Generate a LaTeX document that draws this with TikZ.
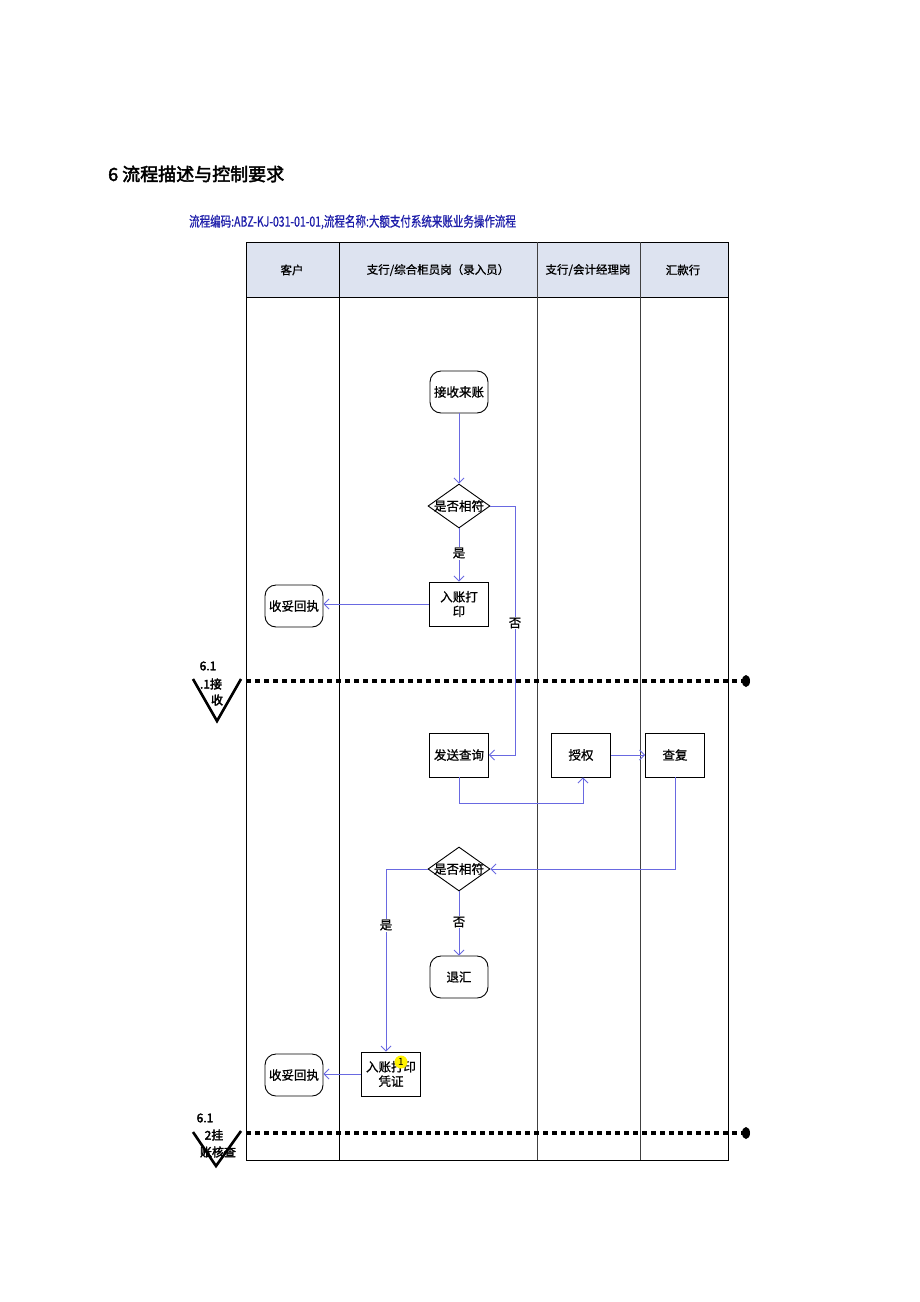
\documentclass[tikz,border=0pt]{standalone}
\usepackage{fontspec}
\newfontfamily\cjk{Noto Sans CJK SC}
\newfontfamily\cjkm[FakeBold=0.8]{Noto Sans CJK SC}
\newfontfamily\cjkb[FakeBold=2.5]{Noto Sans CJK SC}
\usetikzlibrary{shapes.geometric,arrows.meta}
\definecolor{hdr}{RGB}{221,227,240}
\definecolor{flow}{RGB}{105,105,225}
\definecolor{ttl}{RGB}{30,30,170}
\tikzset{
  txt/.style={font=\cjkm\fontsize{12.5}{14.5}\selectfont, align=center, inner sep=0pt},
  term/.style={draw, line width=0.9pt, rounded corners=11pt, minimum width=58pt, minimum height=42pt, txt},
  proc/.style={draw, line width=0.9pt, minimum width=59pt, minimum height=44pt, txt},
  dec/.style={draw, line width=0.9pt, diamond, minimum width=62pt, minimum height=44pt, inner sep=0pt},
  arr/.style={draw=flow, line width=0.8pt, -{Straight Barb[length=5pt,width=10pt]}},
  lbl/.style={txt, fill=white, inner sep=1pt},
  hd/.style={font=\cjkm\fontsize{11.5}{13}\selectfont, inner sep=0pt},
  sep/.style={line width=4pt, dash pattern=on 5pt off 4pt},
  vee/.style={line width=2.6pt},
  side/.style={font=\cjkb\fontsize{12}{13}\selectfont, inner sep=0pt}
}
\begin{document}
\begin{tikzpicture}[x=1pt,y=-1pt]
\useasboundingbox (0,0) rectangle (920,1302);
\fill[white] (0,0) rectangle (920,1302);
% titles
\node[font=\cjkb\fontsize{18}{20}\selectfont, anchor=west, inner sep=0pt] (title) at (108,174) {6 流程描述与控制要求};
\node[font=\cjkm\fontsize{14}{16}\selectfont, text=ttl, anchor=west, inner sep=0pt] (sub) at (189,222) {\scalebox{0.75}[1]{流程编码:ABZ-KJ-031-01-01,流程名称:大额支付系统来账业务操作流程}};
% table
\fill[hdr] (246,242) rectangle (728,297);
\draw[line width=0.9pt] (246,242) rectangle (728,1160);
\draw[line width=0.9pt] (246,297) -- (728,297);
\draw[line width=0.9pt] (339,242) -- (339,1160);
\draw[line width=0.9pt, black!75] (537,242) -- (537,1160);
\draw[line width=0.9pt, black!75] (640,242) -- (640,1160);
\node[hd] (h1) at (292,270) {客户};
\node[hd] (h2) at (438,270) {支行/综合柜员岗（录入员）};
\node[hd] (h3) at (588,270) {支行/会计经理岗};
\node[hd] (h4) at (683,270) {汇款行};
% nodes
\node[term] (recv) at (459,392) {接收来账};
\node[dec] (d1) at (459,506) {};
\node[txt] (d1t) at (d1) {是否相符};
\node[proc] (print1) at (459,604) {入账打\\印};
\node[term] (rcpt1) at (294,606) {收妥回执};
\node[proc] (send) at (459,755) {发送查询};
\node[proc] (auth) at (581,755) {授权};
\node[proc] (reply) at (675,755) {查复};
\node[dec] (d2) at (459,869) {};
\node[txt] (d2t) at (d2) {是否相符};
\node[term] (back) at (459,977) {退汇};
\node[proc] (voucher) at (391,1074) {入账打印\\凭证};
\node[circle, fill=yellow, minimum size=13pt, inner sep=0pt, font=\cjk\fontsize{10}{10}\selectfont] (mark) at (401,1062) {1};
\node[term] (rcpt2) at (294,1075) {收妥回执};
% connectors
\draw[arr] (recv) -- (d1);
\draw[arr] (d1) -- (print1);
\draw[arr] (print1) -- (rcpt1.east |- print1);
\draw[arr] (d1.east) -- ++(25,0) |- (send.east);
\draw[arr] (auth) -- (reply);
\draw[arr] (send.south) -- ++(0,26) -| ([xshift=2pt]auth.south);
\draw[arr] (reply.south) |- (d2.east);
\draw[arr] (d2) -- (back);
\draw[arr] (d2.west) -| ([xshift=-5pt]voucher.north);
\draw[arr] (voucher) -- (rcpt2.east |- voucher);
% labels
\node[lbl] (l1) at (459,553) {是};
\node[lbl] (l2) at (515,623) {否};
\node[lbl] (l3) at (386,925) {是};
\node[lbl] (l4) at (459,922) {否};
% separators
\coordinate (s1a) at (246,681);
\coordinate (s1b) at (742,681);
\draw[sep] (s1a) -- (s1b);
\node[ellipse, fill=black, minimum width=8pt, minimum height=12pt, inner sep=0pt] (e1) at (746,681) {};
\coordinate (s2a) at (246,1133);
\coordinate (s2b) at (742,1133);
\draw[sep] (s2a) -- (s2b);
\node[ellipse, fill=black, minimum width=8pt, minimum height=12pt, inner sep=0pt] (e2) at (746,1133) {};
% left markers
\draw[vee] (193,679) -- (217,721) -- (241,679);
\node[side] (m1a) at (208,666) {6.1};
\node[side] (m1b) at (211,684) {.1接};
\node[side] (m1c) at (217,700) {收};
\draw[vee] (193,1132) -- (216,1166) -- (241,1131);
\node[side] (m2a) at (205,1118) {6.1};
\node[side] (m2b) at (214,1135) {2挂};
\node[side] (m2c) at (218,1152) {账核查};
\end{tikzpicture}
\end{document}
